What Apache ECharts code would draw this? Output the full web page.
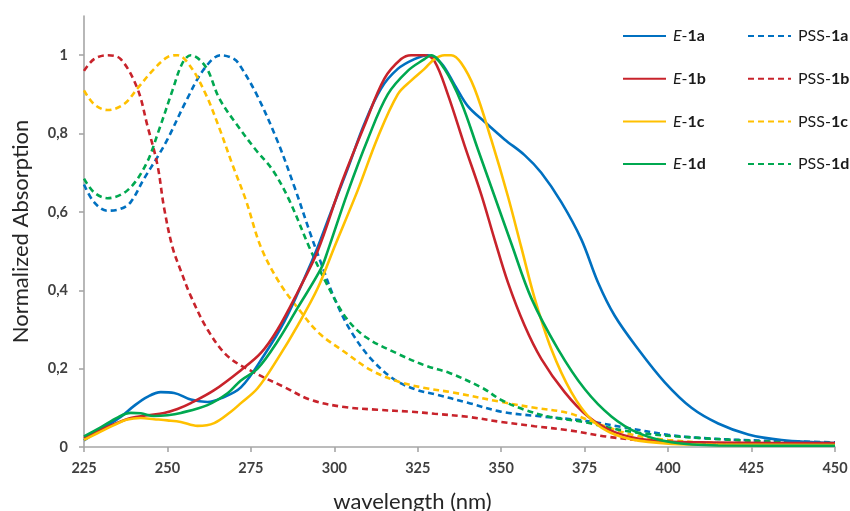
<!DOCTYPE html>
<html>
<head>
<meta charset="utf-8">
<script src="https://cdn.jsdelivr.net/npm/echarts@6/dist/echarts.min.js"></script>
<style>html,body{margin:0;padding:0;background:#fff}#c{width:850px;height:511px}</style>
</head>
<body>
<div id="c"></div>
<script>
// wavelength (nm) / normalized absorption pairs
const E1a = [[225,0.017],[230,0.045],[236,0.077],[240,0.105],[244,0.128],[248,0.14],[252,0.138],[257,0.121],[262,0.115],[266,0.124],[272,0.152],[279,0.235],[285,0.32],[291,0.43],[295,0.51],[299,0.6],[304,0.71],[309,0.825],[314,0.915],[319,0.965],[324,0.99],[328,1.0],[332,0.98],[336,0.925],[340,0.87],[345,0.83],[351,0.785],[357,0.745],[362,0.70],[368,0.625],[374,0.53],[379,0.42],[384,0.335],[391,0.25],[399,0.165],[407,0.10],[415,0.06],[424,0.032],[434,0.018],[450,0.01]];
const E1b = [[225,0.023],[229,0.04],[234,0.058],[239,0.074],[244,0.081],[249,0.087],[253,0.097],[257,0.112],[264,0.145],[272,0.196],[278,0.24],[283,0.3],[289,0.395],[295,0.5],[302,0.67],[309,0.82],[315,0.94],[320,0.99],[323,1.0],[327,1.0],[330,0.985],[334,0.9],[339,0.77],[344,0.645],[348,0.53],[352,0.42],[357,0.31],[362,0.225],[369,0.14],[376,0.078],[384,0.038],[394,0.018],[410,0.012],[450,0.01]];
const E1c = [[225,0.018],[229,0.035],[234,0.056],[238,0.07],[242,0.074],[246,0.071],[250,0.068],[254,0.064],[259,0.054],[264,0.061],[269,0.09],[272,0.112],[277,0.15],[283,0.225],[289,0.31],[295,0.405],[300,0.51],[307,0.655],[313,0.79],[319,0.9],[323,0.935],[327,0.965],[330,0.99],[333,1.0],[335,1.0],[338,0.98],[342,0.915],[347,0.785],[352,0.64],[356,0.51],[360,0.38],[365,0.25],[371,0.14],[377,0.07],[384,0.032],[394,0.013],[410,0.006],[450,0.005]];
const E1d = [[225,0.027],[230,0.05],[235,0.075],[239,0.087],[242,0.086],[246,0.079],[250,0.081],[254,0.087],[262,0.107],[268,0.137],[272,0.17],[277,0.2],[283,0.27],[289,0.355],[296,0.455],[298,0.5],[304,0.65],[310,0.785],[316,0.9],[322,0.96],[327,0.99],[329,1.0],[333,0.965],[338,0.88],[343,0.76],[348,0.64],[353,0.52],[359,0.38],[367,0.25],[375,0.148],[383,0.078],[391,0.036],[401,0.012],[415,0.004],[450,0.003]];
const PSS1a = [[225,0.67],[228,0.625],[232,0.603],[236,0.608],[239,0.625],[243,0.685],[247,0.74],[250,0.785],[256,0.89],[261,0.965],[266,1.0],[270,0.99],[272,0.97],[277,0.895],[283,0.78],[288,0.665],[293,0.54],[296,0.47],[300,0.38],[305,0.295],[311,0.225],[318,0.172],[325,0.145],[330,0.135],[340,0.113],[350,0.09],[362,0.078],[374,0.068],[387,0.05],[400,0.031],[410,0.023],[425,0.017],[450,0.012]];
const PSS1b = [[225,0.96],[228,0.99],[232,1.0],[236,0.99],[241,0.915],[244,0.82],[247,0.72],[249,0.61],[251.5,0.51],[254,0.45],[257,0.385],[262,0.3],[268,0.232],[276,0.19],[285,0.153],[293,0.12],[303,0.102],[313,0.095],[323,0.09],[330,0.085],[340,0.077],[350,0.064],[360,0.053],[370,0.043],[382,0.026],[395,0.015],[410,0.009],[430,0.007],[450,0.006]];
const PSS1c = [[225,0.91],[228,0.875],[232,0.86],[237,0.875],[241,0.915],[246,0.965],[250,0.995],[253,1.0],[257,0.97],[261.5,0.9],[265.5,0.815],[269.5,0.72],[273.5,0.63],[278,0.51],[283.5,0.42],[289.5,0.35],[295.5,0.29],[303.5,0.24],[311,0.196],[319.5,0.166],[327.5,0.15],[335,0.14],[350,0.115],[360,0.1],[370,0.087],[380,0.056],[390,0.03],[400,0.018],[415,0.01],[450,0.006]];
const PSS1d = [[225,0.685],[228,0.65],[232,0.635],[238,0.655],[243.5,0.72],[247.5,0.81],[251.5,0.91],[254.5,0.98],[257,1.0],[261.5,0.97],[265.5,0.89],[270.5,0.826],[276.5,0.758],[281.5,0.707],[286.5,0.63],[292.5,0.51],[297.5,0.42],[303.5,0.33],[309.5,0.28],[318.5,0.24],[327.5,0.207],[334.5,0.189],[344.5,0.15],[350,0.12],[357,0.095],[364.5,0.077],[374.5,0.064],[389.5,0.038],[409.5,0.023],[430,0.014],[450,0.01]];

const seriesNames = ['E-1a','E-1b','E-1c','E-1d','PSS-1a','PSS-1b','PSS-1c','PSS-1d'];
const seriesData = [E1a,E1b,E1c,E1d,PSS1a,PSS1b,PSS1c,PSS1d];
const colors = ['#0070C0','#C8232B','#FFC000','#00A850'];
const xTicks = [225,250,275,300,325,350,375,400,425,450];
const yTicks = [0,0.2,0.4,0.6,0.8,1];

const FONT = 'Lato';
const chart = echarts.init(document.getElementById('c'), null, {renderer:'canvas'});
const series = seriesNames.map((n,i)=>({
  name:n, type:'line', data:seriesData[i], smooth:0.35, showSymbol:false, symbol:'none',
  z: i<4 ? 3 : 2,
  lineStyle:{color:colors[i%4], width:2.6, type: i<4 ? 'solid' : [6,4]},
  itemStyle:{color:colors[i%4]}
}));
const rich = {
  i:{fontStyle:'italic', fontSize:16, fontFamily:FONT, color:'#1a1a1a'},
  b:{fontWeight:'bold', fontSize:16, fontFamily:FONT, color:'#1a1a1a'}
};
const fmt = n => n.startsWith('E-') ? '{i|E}-{b|' + n.slice(2) + '}' : 'PSS-{b|' + n.slice(4) + '}';
const legendBase = {orient:'vertical', top:28, padding:0, itemWidth:43, itemHeight:14, itemGap:26.7,
  formatter:fmt, selectedMode:false, itemStyle:{opacity:0, borderWidth:0},
  textStyle:{fontSize:16, fontFamily:FONT, color:'#1a1a1a', padding:[0,0,0,2], rich:rich}};
chart.setOption({
  animation:false,
  textStyle:{fontFamily:FONT},
  grid:{left:84, right:15, top:16, bottom:64, containLabel:false, outerBoundsMode:'none'},
  legend:[
    Object.assign({data:seriesNames.slice(0,4), left:622}, legendBase),
    Object.assign({data:seriesNames.slice(4), left:747}, legendBase)
  ],
  xAxis:{
    type:'value', min:225, max:450, interval:25,
    name:'wavelength (nm)', nameLocation:'middle', nameGap:44,
    nameTextStyle:{fontSize:22, fontFamily:FONT, color:'#262626', padding:[0,94,0,0]},
    axisLine:{lineStyle:{color:'#a6a6a6', width:1.6}},
    axisTick:{show:true, length:5, lineStyle:{color:'#a6a6a6', width:1.6}, customValues:xTicks},
    axisLabel:{fontSize:14.5, fontWeight:'bold', fontFamily:FONT, color:'#404040', margin:14, customValues:xTicks},
    splitLine:{show:false}
  },
  yAxis:{
    type:'value', min:0, max:1.1, interval:0.2,
    name:'Normalized Absorption', nameLocation:'middle', nameGap:52,
    nameTextStyle:{fontSize:22, fontFamily:FONT, color:'#262626'},
    axisLine:{show:true, lineStyle:{color:'#a6a6a6', width:1.6}},
    axisTick:{show:true, length:5, lineStyle:{color:'#a6a6a6', width:1.6}, customValues:yTicks},
    axisLabel:{fontSize:14.5, fontWeight:'bold', fontFamily:FONT, color:'#404040', margin:16, customValues:yTicks,
      formatter:v=>String(Math.round(v*10)/10).replace('.',',')},
    splitLine:{show:false}
  },
  series:series
});
</script>
</body>
</html>
